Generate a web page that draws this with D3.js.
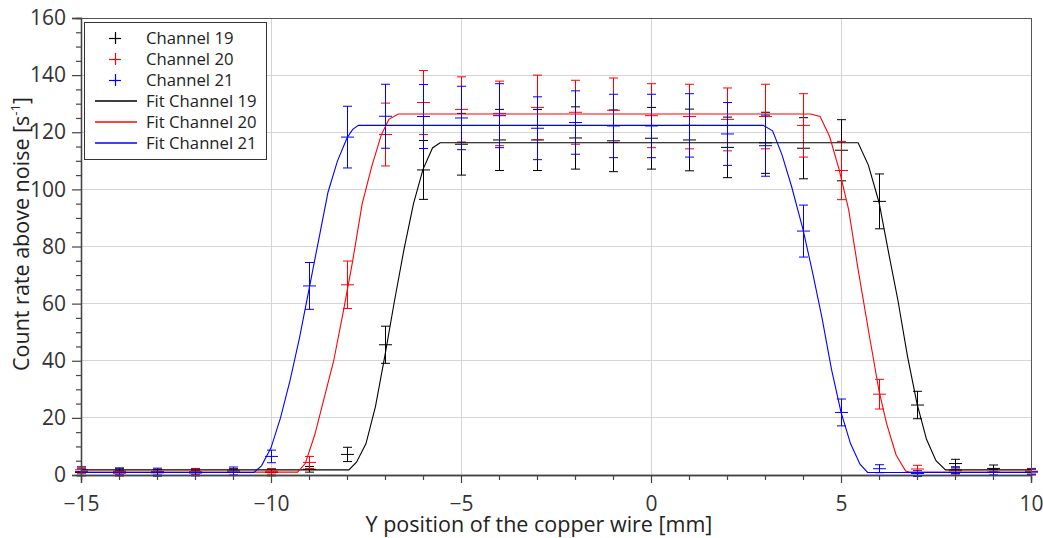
<!DOCTYPE html>
<html>
<head>
<meta charset="utf-8">
<script src="https://cdn.jsdelivr.net/npm/d3@7"></script>
<style>
  html, body { margin: 0; padding: 0; background: #fff; }
  svg { display: block; font-family: "Open Sans", "Noto Sans", sans-serif; }
</style>
</head>
<body>
<svg id="chart" width="1043" height="538"></svg>
<script>
// Wire scan positions [mm]
const positions = [-15, -14, -13, -12, -11, -10, -9, -8, -7, -6, -5, -4, -3, -2, -1, 0, 1, 2, 3, 4, 5, 6, 7, 8, 9, 10];

// Measured count rates above noise [1/s] and their uncertainties
const ch19Rate = [0.9, 1.0, 0.8, 1.1, 1.0, 0.9, 2.0, 7.2, 45.6, 106.8, 115.8, 117.3, 117.3, 118.0, 117.0, 117.9, 117.3, 114.7, 116.3, 114.4, 113.7, 95.8, 24.5, 4.0, 2.3, 1.3];
const ch19Err  = [1.2, 1.2, 1.2, 1.2, 1.2, 1.2, 1.0, 2.5, 6.5, 10.3, 10.8, 10.7, 10.7, 10.9, 10.8, 10.8, 10.8, 10.6, 10.7, 10.7, 10.7, 9.6, 4.8, 1.5, 1.2, 1.0];
const ch20Rate = [1.8, 0.6, 0.8, 1.2, 0.9, 1.3, 4.4, 66.6, 119.2, 130.4, 128.0, 126.6, 128.7, 127.0, 127.7, 125.8, 125.5, 124.5, 125.5, 122.4, 106.6, 28.3, 2.1, 1.0, 0.9, 1.2];
const ch20Err  = [1.2, 1.0, 1.0, 1.0, 1.0, 1.0, 2.1, 8.3, 11.0, 11.2, 11.4, 11.3, 11.3, 11.2, 11.3, 11.2, 11.3, 11.0, 11.3, 11.1, 10.2, 5.2, 1.3, 1.0, 1.0, 1.0];
const ch21Rate = [1.2, 1.3, 1.2, 0.7, 1.4, 6.5, 66.2, 118.3, 125.6, 125.5, 125.0, 125.8, 121.4, 123.4, 122.2, 122.2, 122.4, 119.4, 115.3, 85.4, 21.9, 2.2, 0.5, 1.7, 1.0, 1.0];
const ch21Err  = [1.3, 1.2, 1.2, 1.0, 1.4, 2.2, 8.2, 10.8, 11.2, 11.2, 11.1, 11.2, 11.0, 11.1, 11.1, 11.1, 11.1, 11.0, 10.7, 9.1, 4.7, 1.4, 1.0, 1.2, 1.0, 1.0];

// Fitted profiles (vertices of the fit curves)
const fit19X = [-15, -7.95, -7.75, -7.5, -7.25, -7.0, -6.75, -6.5, -6.25, -6.0, -5.75, -5.55, 5.45, 5.72, 6.0, 6.25, 6.5, 6.75, 7.0, 7.25, 7.5, 7.75, 10];
const fit19Y = [1.8, 1.8, 4.5, 11, 24, 42, 61, 79, 95, 107, 114.5, 116.3, 116.3, 108.5, 95.5, 78, 61, 41.5, 25, 12.5, 5, 1.8, 1.8];
const fit20X = [-15, -9.3, -9.1, -8.85, -8.6, -8.35, -8.1, -7.85, -7.6, -7.35, -7.1, -6.9, -6.65, 4.2, 4.45, 4.7, 4.95, 5.2, 5.45, 5.75, 6.0, 6.2, 6.45, 6.7, 6.8, 10];
const fit20Y = [1.0, 1.0, 4, 14, 27, 40, 57, 75, 95, 108, 119, 124.5, 126.4, 126.4, 125.5, 118.5, 107, 93, 72, 48.5, 29.5, 18, 7, 1.4, 1.0, 1.0];
const fit21X = [-15, -10.45, -10.25, -10.0, -9.75, -9.5, -9.25, -9.0, -8.75, -8.5, -8.25, -8.0, -7.85, -7.7, 2.95, 3.2, 3.45, 3.7, 4.0, 4.25, 4.5, 4.75, 5.0, 5.25, 5.5, 5.7, 10];
const fit21Y = [0.9, 0.9, 3.2, 9.5, 20, 33, 48, 65, 82, 99, 110, 118, 121, 122.4, 122.4, 120.5, 112, 101, 86, 71, 55, 37, 22, 11, 3.8, 0.9, 0.9];

// Axis ticks
const xMajorTicks = [-15, -10, -5, 0, 5, 10];
const xMinorTicks = [-14, -13, -12, -11, -9, -8, -7, -6, -4, -3, -2, -1, 1, 2, 3, 4, 6, 7, 8, 9];
const yMajorTicks = [0, 20, 40, 60, 80, 100, 120, 140, 160];
const yMinorTicks = [5, 10, 15, 25, 30, 35, 45, 50, 55, 65, 70, 75, 85, 90, 95, 105, 110, 115, 125, 130, 135, 145, 150, 155];

const legendLabels = ["Channel 19", "Channel 20", "Channel 21", "Fit Channel 19", "Fit Channel 20", "Fit Channel 21"];
const colors = ["#000000", "#ff0000", "#0000ff"];

const svg = d3.select("#chart");
const margin = { left: 81, right: 12, top: 18, bottom: 63 };
const W = 1043, H = 538;
const x = d3.scaleLinear().domain([-15, 10]).range([margin.left, W - margin.right]);
const y = d3.scaleLinear().domain([0, 160]).range([H - margin.bottom, margin.top]);

// grid
const grid = svg.append("g").attr("stroke", "#d4d4d4").attr("stroke-width", 1).attr("shape-rendering", "crispEdges");
grid.selectAll("line.gx").data(xMajorTicks.slice(1, -1)).join("line")
  .attr("class", "gx")
  .attr("x1", d => x(d)).attr("x2", d => x(d)).attr("y1", y(0)).attr("y2", y(160));
grid.selectAll("line.gy").data(yMajorTicks.slice(1, -1)).join("line")
  .attr("class", "gy")
  .attr("x1", x(-15)).attr("x2", x(10)).attr("y1", d => y(d)).attr("y2", d => y(d));

// measured points with error bars
const series = [
  { rate: ch19Rate, err: ch19Err, color: colors[0] },
  { rate: ch20Rate, err: ch20Err, color: colors[1] },
  { rate: ch21Rate, err: ch21Err, color: colors[2] }
];
const capW = 4.5, centerW = 6.5;
series.forEach(s => {
  const g = svg.append("g").attr("stroke", s.color).attr("stroke-width", 1).attr("fill", "none");
  positions.forEach((p, i) => {
    const cx = Math.round(x(p)) + 0.5;
    const v = s.rate[i], e = s.err[i];
    const yt = y(v + e), yb = y(v - e), yc = y(v);
    g.append("line").attr("x1", cx).attr("x2", cx).attr("y1", yt).attr("y2", yb);
    g.append("line").attr("x1", cx - capW).attr("x2", cx + capW).attr("y1", yt).attr("y2", yt);
    g.append("line").attr("x1", cx - capW).attr("x2", cx + capW).attr("y1", yb).attr("y2", yb);
    g.append("line").attr("x1", cx - centerW).attr("x2", cx + centerW).attr("y1", yc).attr("y2", yc);
  });
});

// fit curves
const fits = [
  { xs: fit19X, ys: fit19Y, color: colors[0] },
  { xs: fit20X, ys: fit20Y, color: colors[1] },
  { xs: fit21X, ys: fit21Y, color: colors[2] }
];
const line = d3.line().x(d => x(d[0])).y(d => y(d[1]));
fits.forEach(f => {
  svg.append("path")
    .attr("d", line(f.xs.map((v, i) => [v, f.ys[i]])))
    .attr("fill", "none").attr("stroke", f.color).attr("stroke-width", 1.1);
});

// frame
svg.append("rect")
  .attr("x", x(-15) + 0.5).attr("y", y(160) + 0.5)
  .attr("width", x(10) - x(-15)).attr("height", y(0) - y(160))
  .attr("fill", "none").attr("stroke", "#555").attr("stroke-width", 1);

// axes
const axisColor = "#444";
const tickFont = 21;
const xAxis = svg.append("g").attr("transform", `translate(0,${y(0)})`)
  .call(d3.axisBottom(x).tickValues(xMajorTicks).tickSize(8).tickPadding(13).tickFormat(d3.format("d")));
const xMinor = svg.append("g").attr("transform", `translate(0,${y(0)})`)
  .call(d3.axisBottom(x).tickValues(xMinorTicks).tickSize(5).tickFormat(""));
const yAxis = svg.append("g").attr("transform", `translate(${x(-15)},0)`)
  .call(d3.axisLeft(y).tickValues(yMajorTicks).tickSize(9).tickPadding(6));
const yMinor = svg.append("g").attr("transform", `translate(${x(-15)},0)`)
  .call(d3.axisLeft(y).tickValues(yMinorTicks).tickSize(5).tickFormat(""));
[xAxis, xMinor, yAxis, yMinor].forEach(a => {
  a.selectAll("path.domain").attr("stroke", axisColor).attr("stroke-width", 1.3);
  a.selectAll(".tick line").attr("stroke", axisColor).attr("stroke-width", 1.2);
  a.selectAll(".tick text").attr("fill", "#333").attr("font-size", tickFont)
    .attr("font-family", "'Open Sans', 'Noto Sans', sans-serif");
});

// axis titles
svg.append("text")
  .attr("x", 539).attr("y", 532)
  .attr("text-anchor", "middle").attr("font-size", 21.5).attr("fill", "#222")
  .text("Y position of the copper wire [mm]");
const yTitle = svg.append("text")
  .attr("transform", `translate(28.5,${234}) rotate(-90)`)
  .attr("text-anchor", "middle").attr("font-size", 21.5).attr("fill", "#222");
yTitle.append("tspan").text("Count rate above noise [s");
yTitle.append("tspan").attr("font-size", 13).attr("dy", -9).text("-1");
yTitle.append("tspan").attr("dy", 9).text("]");

// legend
const lg = svg.append("g");
lg.append("rect").attr("x", 84.5).attr("y", 22.5).attr("width", 182).attr("height", 137)
  .attr("fill", "#fff").attr("stroke", "#333").attr("stroke-width", 1);
legendLabels.forEach((lab, i) => {
  const cy = 38 + i * 21;
  const col = colors[i % 3];
  if (i < 3) {
    lg.append("line").attr("x1", 109).attr("x2", 121).attr("y1", cy + 0.5).attr("y2", cy + 0.5).attr("stroke", col).attr("stroke-width", 1.2);
    lg.append("line").attr("x1", 115.5).attr("x2", 115.5).attr("y1", cy - 6).attr("y2", cy + 6).attr("stroke", col).attr("stroke-width", 1.2);
  } else {
    lg.append("line").attr("x1", 95).attr("x2", 137).attr("y1", cy).attr("y2", cy).attr("stroke", col).attr("stroke-width", 1.3);
  }
  lg.append("text").attr("x", 146).attr("y", cy).attr("dy", "0.35em")
    .attr("font-size", 16.7).attr("fill", "#222").text(lab);
});
</script>
</body>
</html>
